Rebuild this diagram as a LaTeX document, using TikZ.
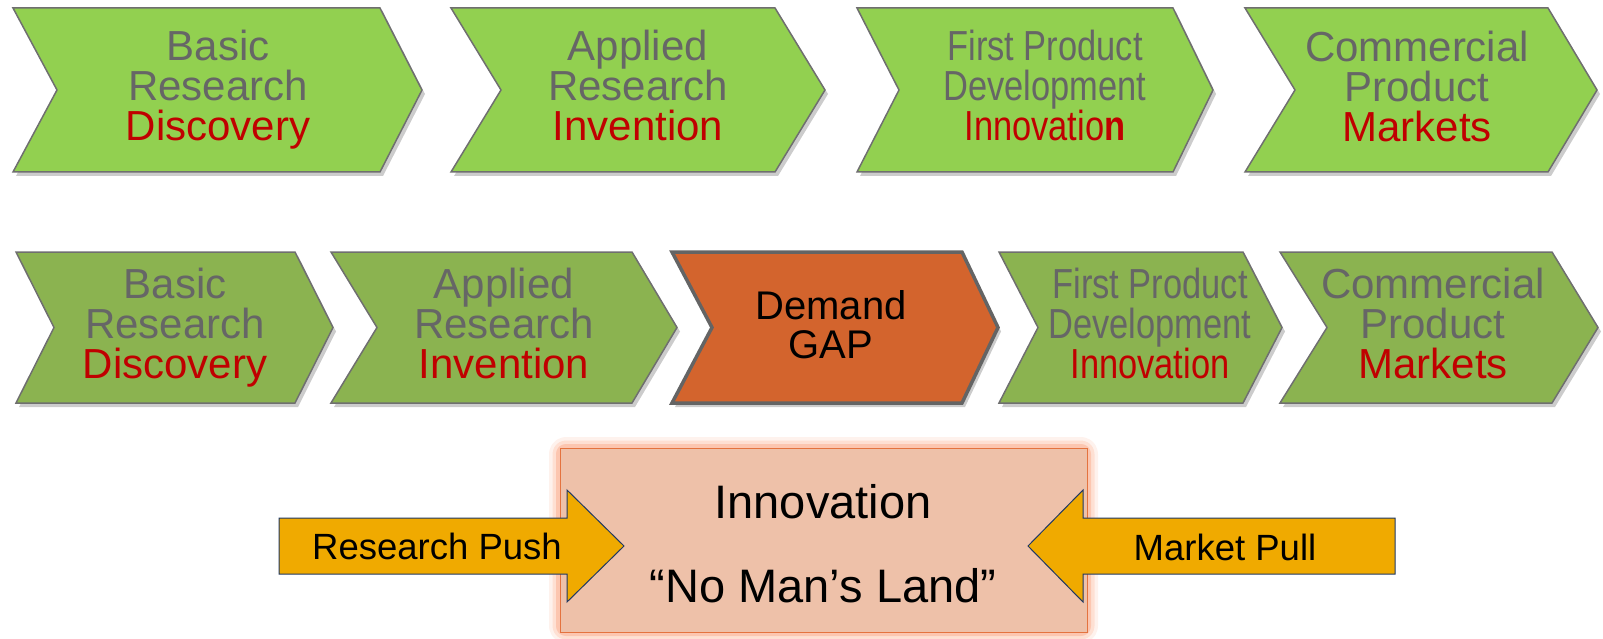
\documentclass[tikz,border=0pt]{standalone}
\usepackage{fontspec}
\setmainfont{Liberation Sans}
\newfontfamily\narrowsf[FakeStretch=0.82]{Liberation Sans}
\usepackage{tikz}
\usetikzlibrary{shadows,positioning}
\definecolor{lightgreen}{HTML}{92D050}
\definecolor{olivegreen}{HTML}{8BB350}
\definecolor{gaporange}{HTML}{D3642D}
\definecolor{chevline}{HTML}{6F6F6F}
\definecolor{txtgray}{HTML}{666666}
\definecolor{txtred}{HTML}{C00000}
\definecolor{landfill}{HTML}{EEC1A9}
\definecolor{landline}{HTML}{E4733F}
\definecolor{landglow}{HTML}{FBA886}
\definecolor{arrowfill}{HTML}{F0AA00}
\definecolor{arrowline}{HTML}{1F3864}
\tikzset{
	chevron/.style={draw=chevline, line width=1.5pt, drop shadow={shadow xshift=3pt, shadow yshift=-4pt, opacity=0.4}},
	chevtext/.style={anchor=north, align=center, inner sep=0pt, text=txtgray, font=\fontsize{42}{40}\selectfont},
	narrowtext/.style={chevtext, font=\narrowsf\fontsize{42}{40}\selectfont},
	forcearrow/.style={fill=arrowfill, draw=arrowline, line width=1pt, line join=miter},
	arrowtext/.style={anchor=base, inner sep=0pt, font=\fontsize{36.5}{40}\selectfont},
	glow/.style={draw=landglow, line join=round, rounded corners=6pt}
}
% #1 style, #2 left, #3 notch, #4 corner, #5 tip, #6 top, #7 bottom
\newcommand{\chev}[7]{\path[chevron,#1] (#2,#6) -- (#4,#6) -- (#5,{(#6+#7)/2}) -- (#4,#7) -- (#2,#7) -- (#3,{(#6+#7)/2}) -- cycle;}

\begin{document}
\begin{tikzpicture}[x=1pt, y=-1pt]
			\useasboundingbox (0,0) rectangle (1603,639);
			% first row
			\chev{fill=lightgreen}{13}{57}{380}{422}{8}{172}
			\chev{fill=lightgreen}{451}{501}{775}{825}{8}{172}
			\chev{fill=lightgreen}{857}{899}{1173}{1213}{8}{172}
			\chev{fill=lightgreen}{1245}{1295}{1548}{1597}{8}{172}
			\node[chevtext] (basic1) at (218,30) {Basic\\Research\\\textcolor{txtred}{Discovery}};
			\node[chevtext] (applied1) at (638,30) {Applied\\Research\\\textcolor{txtred}{Invention}};
			\node[narrowtext] (first1) at (1045,30) {First Product\\Development\\\textcolor{txtred}{Innovatio\textbf{n}}};
			\node[chevtext] (comm1) at (1417,31) {Commercial\\Product\\\textcolor{txtred}{Markets}};
			% second row
			\chev{fill=olivegreen}{16}{54}{295}{333}{252}{403}
			\chev{fill=olivegreen}{331}{377}{632}{677}{252}{403}
			\chev{fill=gaporange, line width=3.5pt, draw=chevline!90!black}{672}{712}{962}{998}{252}{403}
			\chev{fill=olivegreen}{999}{1038}{1243}{1282}{252}{403}
			\chev{fill=olivegreen}{1280}{1327}{1552}{1598}{252}{403}
			\node[chevtext] (basic2) at (175,268) {Basic\\Research\\\textcolor{txtred}{Discovery}};
			\node[chevtext] (applied2) at (504,268) {Applied\\Research\\\textcolor{txtred}{Invention}};
			\node[chevtext, text=black, font=\fontsize{40}{39}\selectfont] (gap) at (831,290) {Demand\\GAP};
			\node[narrowtext] (first2) at (1150,268) {First Product\\Development\\\textcolor{txtred}{Innovation}};
			\node[chevtext] (comm2) at (1433,268) {Commercial\\Product\\\textcolor{txtred}{Markets}};
			% no man's land
			\draw[glow, line width=22pt, opacity=0.15] (560,448) rectangle (1087,632);
			\draw[glow, line width=15pt, opacity=0.25] (560,448) rectangle (1087,632);
			\draw[glow, line width=8pt, opacity=0.45] (560,448) rectangle (1087,632);
			\node[draw=landline, fill=landfill, line width=1pt, minimum width=527pt, minimum height=184pt, inner sep=0pt] (land) at (823.5,540) {};
			\node[anchor=base, inner sep=0pt, font=\fontsize{47}{50}\selectfont] (innov) at (823,518) {Innovation};
			\node[anchor=base, inner sep=0pt, font=\fontsize{47}{50}\selectfont] (noman) at (823,602) {“No Man’s Land”};
			% push and pull
			\path[forcearrow] (279,518) -- (567,518) -- (567,490) -- (624,546) -- (567,602) -- (567,574) -- (279,574) -- cycle;
			\path[forcearrow] (1395,518) -- (1083,518) -- (1083,490) -- (1028,546) -- (1083,602) -- (1083,574) -- (1395,574) -- cycle;
			\node[arrowtext] (push) at (437,559) {Research Push};
			\node[arrowtext] (pull) at (1225,560) {Market Pull};
		\end{tikzpicture}
\end{document}
